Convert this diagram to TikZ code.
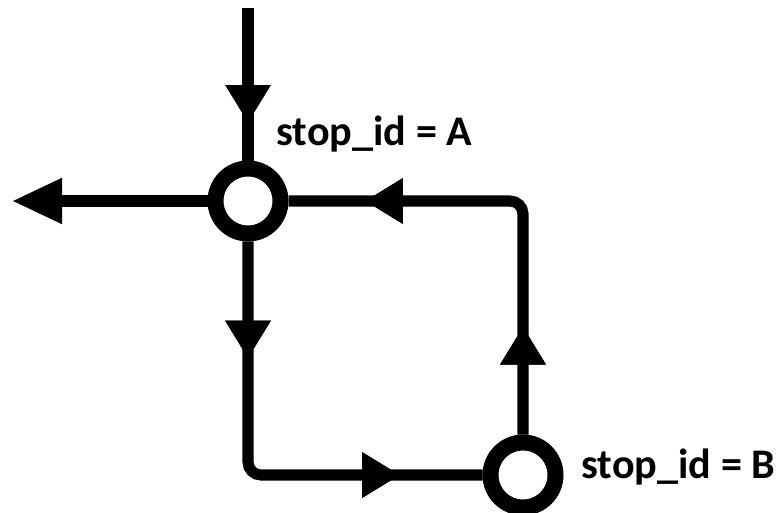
\documentclass[tikz,border=0pt]{standalone}
\usepackage{fontspec}
\setmainfont{Carlito}
\usetikzlibrary{arrows.meta,decorations.markings}

\begin{document}
\begin{tikzpicture}[line width=6.3pt,
    stopnode/.style={circle,draw,line width=9.1pt,fill=white,minimum size=1.3cm,inner sep=0pt},
    midarrows/.style={postaction={decorate},
        decoration={markings,mark=at position #1 with {\arrow{Triangle[length=0.76cm,width=0.86cm]}}}},
    lbl/.style={anchor=base west,inner sep=0pt,font=\fontsize{24}{29}\selectfont\bfseries}]
    \useasboundingbox (0,0) rectangle (15.6,10.24);

        \coordinate (top) at (4.96,10.08);
        \coordinate (west) at (0.24,6.22);
        \coordinate (bl) at (4.96,0.74);
        \coordinate (tr) at (10.46,6.22);

        \node at (4.96,6.22) [stopnode] (a) {};
        \node at (10.46,0.74) [stopnode] (b) {};

        % incoming and outgoing lines at A
        \draw[midarrows=2.3cm] (top) -- (a);
        \draw[-{Triangle[length=1.0cm,width=0.86cm]}] (a) -- (west);
        % loop A -> B -> A
        \draw[rounded corners=7.4pt,midarrows=2.34cm,midarrows=7.6cm] (a) -- (bl) -- (b);
        \draw[rounded corners=7.4pt,midarrows=2.16cm,midarrows=7.72cm] (b) -- (tr) -- (a);

        \node at (5.42,7.34) [lbl] (la) {stop\_id = A};
        \node at (11.52,0.68) [lbl] (lb) {stop\_id = B};
\end{tikzpicture}
\end{document}
